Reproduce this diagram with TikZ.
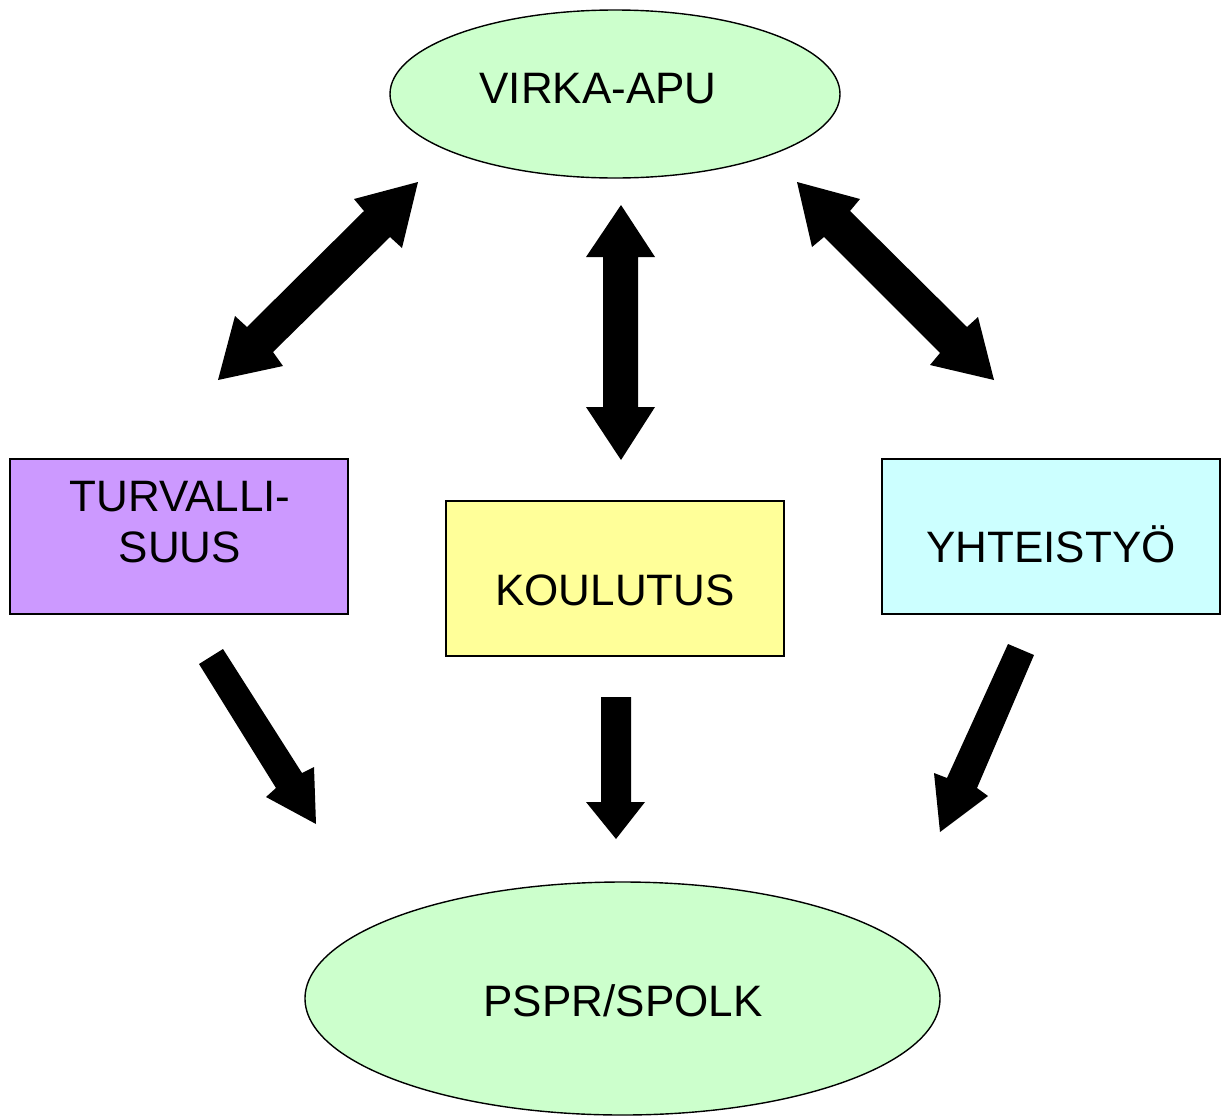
\documentclass[tikz,border=0pt]{standalone}
\usepackage{fontspec}
\setmainfont{Liberation Sans}
\usetikzlibrary{shapes.geometric}
\definecolor{lgreen}{HTML}{CCFFCC}
\definecolor{lpurple}{HTML}{CC99FF}
\definecolor{lyellow}{HTML}{FFFF99}
\definecolor{lcyan}{HTML}{CCFFFF}
\tikzset{
  oval/.style={ellipse, draw=black, line width=1.4pt, fill=lgreen, inner sep=0pt},
  boxnode/.style={rectangle, draw=black, line width=1.4pt, inner sep=0pt, minimum width=338pt, minimum height=155pt},
  lbl/.style={inner sep=0pt, font=\fontsize{44}{51}\selectfont, align=center},
  blockarrow/.style={fill=black, draw=none}
}
\begin{document}
\begin{tikzpicture}[x=1pt,y=-1pt]
\useasboundingbox (0,0) rectangle (1229,1117);
% shapes
\node[oval, minimum width=450pt, minimum height=168pt] (virka) at (615,94) {};
\node[oval, minimum width=635pt, minimum height=233pt] (pspr) at (622.5,998.5) {};
\node[boxnode, fill=lpurple] (turva) at (179,536.5) {};
\node[boxnode, fill=lyellow] (koulu) at (615,578.5) {};
\node[boxnode, fill=lcyan] (yht) at (1051,536.5) {};
% labels
\node[lbl, anchor=base] (tvirka) at (598,103) {VIRKA-APU};
\node[lbl, anchor=base] (tpspr) at (623,1016) {PSPR/SPOLK};
\node[lbl, anchor=base] (tturva) at (180,562) {TURVALLI-\\SUUS};
\node[lbl, anchor=base] (tkoulu) at (615,605) {KOULUTUS};
\node[lbl, anchor=base] (tyht) at (1051,562) {YHTEISTYÖ};
% block arrows
\fill[blockarrow] (418,182) -- (402,248) -- (390,237) -- (273,352) -- (283,366) -- (218,380) -- (235,316) -- (247,327) -- (364,211) -- (354,199) -- cycle;
\fill[blockarrow] (797,182) -- (860,199) -- (850,211) -- (967,327) -- (978,317) -- (994,380) -- (930,365) -- (940,353) -- (824,237) -- (812,247) -- cycle;
\fill[blockarrow] (621,205) -- (655,257) -- (638,257) -- (638,407) -- (655,407) -- (621,460) -- (586,407) -- (603,407) -- (603,257) -- (586,257) -- cycle;
\fill[blockarrow] (199,664) -- (223,649) -- (302,773) -- (314,767) -- (316,824) -- (266,797) -- (276,788) -- cycle;
\fill[blockarrow] (601,697) -- (631,697) -- (631,802) -- (645,802) -- (616,839) -- (586,802) -- (601,802) -- cycle;
\fill[blockarrow] (1008,644) -- (1034,655) -- (977,788) -- (988,796) -- (940,832) -- (934,773) -- (947,778) -- cycle;
\end{tikzpicture}
\end{document}
